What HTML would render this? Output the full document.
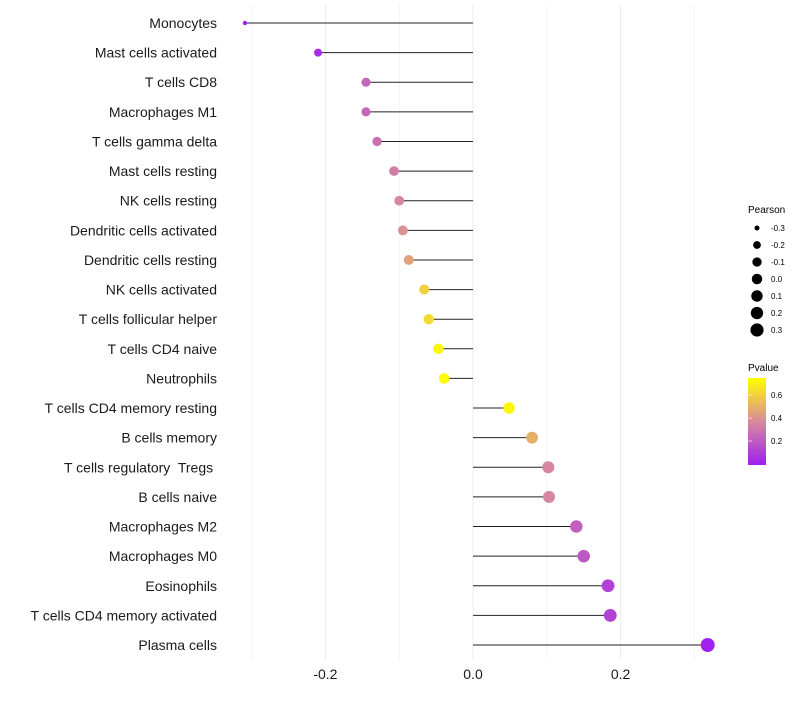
<!DOCTYPE html>
<html><head><meta charset="utf-8"><style>
body{margin:0;background:#fff;font-family:"Liberation Sans",sans-serif}
text{white-space:pre}
</style></head><body>
<svg id="c" width="800" height="700" xmlns="http://www.w3.org/2000/svg">
<defs><linearGradient id="pg" x1="0" y1="1" x2="0" y2="0">
<stop offset="0" stop-color="#a020f0"/><stop offset="0.5" stop-color="#d88a9c"/><stop offset="1" stop-color="#ffff00"/></linearGradient></defs>
<g id="grid"></g><g id="marks"></g><g id="ylab"></g><g id="xlab"></g>
<g id="legend">
<text x="748" y="213" font-size="10">Pearson</text>
<g id="sizeleg"></g>
<text x="748" y="371" font-size="10">Pvalue</text>
<rect x="748" y="378" width="18" height="87" fill="url(#pg)"/>
<g id="cbticks"></g>
</g>
</svg>
<script>
const categories=["Monocytes","Mast cells activated","T cells CD8","Macrophages M1","T cells gamma delta","Mast cells resting","NK cells resting","Dendritic cells activated","Dendritic cells resting","NK cells activated","T cells follicular helper","T cells CD4 naive","Neutrophils","T cells CD4 memory resting","B cells memory","T cells regulatory  Tregs ","B cells naive","Macrophages M2","Macrophages M0","Eosinophils","T cells CD4 memory activated","Plasma cells"];
const pearson=[-0.309,-0.21,-0.145,-0.145,-0.130,-0.107,-0.100,-0.095,-0.087,-0.066,-0.060,-0.047,-0.039,0.049,0.080,0.102,0.103,0.140,0.150,0.183,0.186,0.318];
const pvalue=[0.0,0.05,0.25,0.25,0.28,0.33,0.36,0.40,0.45,0.60,0.63,0.72,0.74,0.72,0.50,0.36,0.36,0.22,0.20,0.12,0.12,0.0];
const xTicks=[-0.2,0.0,0.2];
const sizeLegend=[-0.3,-0.2,-0.1,0.0,0.1,0.2,0.3];
const cbTicks=[0.2,0.4,0.6];
const NS="http://www.w3.org/2000/svg";
const x=v=>473+v*738;
const y=i=>23+i*(622/21);
const r=v=>2+5*Math.sqrt(Math.max(0,(v+0.31)/0.63));
function col(p){const t=Math.max(0,Math.min(1,p/0.75));
 const a=[160,32,240],m=[216,138,156],b=[255,255,0];
 let c=t<0.5?a.map((s,k)=>s+(m[k]-s)*t*2):m.map((s,k)=>s+(b[k]-s)*(t-0.5)*2);
 return `rgb(${c.map(Math.round).join(",")})`;}
function mk(tag,at,par,txt){const e=document.createElementNS(NS,tag);for(const k in at)e.setAttribute(k,at[k]);if(txt!==undefined)e.textContent=txt;document.getElementById(par).appendChild(e);return e;}
for(let v=-0.3;v<=0.31;v+=0.1){const g=mk("line",{x1:x(v),x2:x(v),y1:5,y2:660,stroke:Math.abs(Math.round(v*10))%2===0?"#ebebeb":"#f3f3f3","stroke-width":1},"grid");

}
categories.forEach((c,i)=>{
 const l=mk("line",{x1:x(0),x2:x(pearson[i]),y1:y(i),y2:y(i),stroke:"#222","stroke-width":1},"marks");
 
 
 const d=mk("circle",{cx:x(pearson[i]),cy:y(i),r:r(pearson[i]),fill:col(pvalue[i])},"marks");
 
 
 const t=mk("text",{x:217,y:y(i)+5,"text-anchor":"end","font-size":14,fill:"#1a1a1a"},"ylab",c);
 
 
});
xTicks.forEach(v=>{const t=mk("text",{x:x(v),y:679,"text-anchor":"middle","font-size":14,fill:"#1a1a1a"},"xlab",v.toFixed(1));

});
sizeLegend.forEach((v,i)=>{const cy=228+i*17;
 const c=mk("circle",{cx:757,cy:cy,r:r(v)*0.95,fill:"#000"},"sizeleg");
 
 
 const t=mk("text",{x:771,y:cy+3,"font-size":8},"sizeleg",v.toFixed(1));
 
 });
cbTicks.forEach(p=>{const cy=464-p/0.75*86;
 const t=mk("text",{x:771,y:cy+3,"font-size":8},"cbticks",p.toFixed(1));
 
 
 const l=mk("line",{x1:748,x2:752,y1:cy,y2:cy,stroke:"#fff","stroke-opacity":0.6},"cbticks");
 
 });
</script>
</body></html>
